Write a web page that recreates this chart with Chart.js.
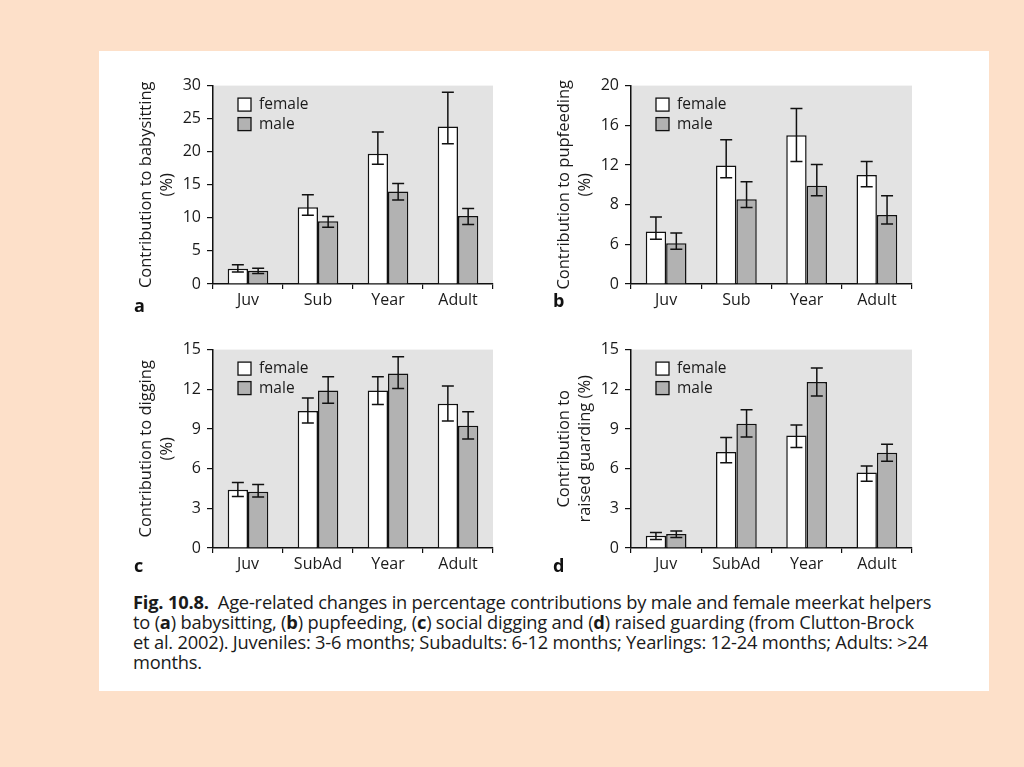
<!DOCTYPE html>
<html>
<head>
<meta charset="utf-8">
<script src="https://cdn.jsdelivr.net/npm/chart.js@4/dist/chart.umd.min.js"></script>
<style>
  body { margin:0; background:#fde0c9; width:1024px; height:767px; overflow:hidden; font-family:"Open Sans", sans-serif; }
  #sheet { position:absolute; left:99px; top:51px; width:890px; height:640px; background:#fff; }
  canvas { position:absolute; }
  .letter { position:absolute; font-weight:bold; font-size:18px; color:#111; }
  #caption { position:absolute; left:133px; top:592px; font-size:18.3px; line-height:20px; color:#1a1a1a; letter-spacing:-0.2px; }
  #caption div { white-space:nowrap; }
</style>
</head>
<body>
<div id="sheet"></div>
<canvas id="ca" width="380" height="240" style="left:120px;top:70px"></canvas>
<canvas id="cb" width="381" height="240" style="left:538px;top:70px"></canvas>
<canvas id="cc" width="380" height="240" style="left:120px;top:334px"></canvas>
<canvas id="cd" width="381" height="240" style="left:538px;top:334px"></canvas>
<div class="letter" style="left:134px;top:293px">a</div>
<div class="letter" style="left:553px;top:288px">b</div>
<div class="letter" style="left:134px;top:553px">c</div>
<div class="letter" style="left:553px;top:553px">d</div>
<div id="caption">
  <div><b>Fig. 10.8.</b>&nbsp; Age-related changes in percentage contributions by male and female meerkat helpers</div>
  <div>to (<b>a</b>) babysitting, (<b>b</b>) pupfeeding, (<b>c</b>) social digging and (<b>d</b>) raised guarding (from Clutton-Brock</div>
  <div>et al. 2002). Juveniles: 3-6 months; Subadults: 6-12 months; Yearlings: 12-24 months; Adults: &gt;24</div>
  <div>months.</div>
</div>
<script>
// age classes
const agesAB = ['Juv', 'Sub', 'Year', 'Adult'];
const agesCD = ['Juv', 'SubAd', 'Year', 'Adult'];

// (a) babysitting
const babyFemale = [2.3, 11.6, 19.7, 23.8];
const babyFemaleLo = [1.8, 10.4, 18.1, 21.2];
const babyFemaleHi = [2.9, 13.5, 23.0, 29.0];
const babyMale = [2.0, 9.5, 14.0, 10.3];
const babyMaleLo = [1.6, 8.6, 12.7, 9.0];
const babyMaleHi = [2.4, 10.2, 15.2, 11.4];

// (b) pupfeeding (axis printed with "6" at the 4 position)
const pupFemale = [5.3, 11.95, 15.0, 11.0];
const pupFemaleLo = [4.5, 10.7, 12.35, 9.8];
const pupFemaleHi = [6.75, 14.55, 17.7, 12.35];
const pupMale = [4.1, 8.55, 9.9, 6.95];
const pupMaleLo = [3.5, 7.7, 8.9, 6.05];
const pupMaleHi = [5.15, 10.3, 12.05, 8.9];
const pupTickLabels = ['0', '6', '8', '12', '16', '20'];

// (c) digging
const digFemale = [4.4, 10.35, 11.9, 10.9];
const digFemaleLo = [3.9, 9.45, 10.85, 9.6];
const digFemaleHi = [4.95, 11.35, 12.95, 12.25];
const digMale = [4.25, 11.9, 13.2, 9.25];
const digMaleLo = [3.85, 10.95, 12.05, 8.25];
const digMaleHi = [4.8, 12.95, 14.45, 10.3];

// (d) raised guarding
const guardFemale = [0.93, 7.25, 8.5, 5.7];
const guardFemaleLo = [0.65, 6.45, 7.6, 5.05];
const guardFemaleHi = [1.18, 8.35, 9.3, 6.2];
const guardMale = [1.05, 9.4, 12.55, 7.2];
const guardMaleLo = [0.8, 8.4, 11.5, 6.55];
const guardMaleHi = [1.28, 10.45, 13.6, 7.85];

const FONT = '"Open Sans", sans-serif';

// grey panel behind the bars
const panelBg = {
  id: 'panelBg',
  beforeDraw(chart) {
    const a = chart.chartArea, ctx = chart.ctx;
    ctx.save();
    ctx.fillStyle = '#e3e3e3';
    ctx.fillRect(a.left, a.top, a.right - a.left, a.bottom - a.top);
    ctx.restore();
  }
};

// whiskers from lo/hi arrays kept on each dataset
const errorBars = {
  id: 'errorBars',
  afterDatasetsDraw(chart) {
    const ctx = chart.ctx, y = chart.scales.y;
    ctx.save();
    ctx.strokeStyle = '#111';
    ctx.lineWidth = 1.5;
    chart.data.datasets.forEach((ds, i) => {
      chart.getDatasetMeta(i).data.forEach((bar, j) => {
        const x = bar.x;
        const yl = y.getPixelForValue(ds.lo[j]);
        const yh = y.getPixelForValue(ds.hi[j]);
        ctx.beginPath();
        ctx.moveTo(x, yl); ctx.lineTo(x, yh);
        ctx.moveTo(x - 6, yl); ctx.lineTo(x + 6, yl);
        ctx.moveTo(x - 6, yh); ctx.lineTo(x + 6, yh);
        ctx.stroke();
      });
    });
    ctx.restore();
  }
};

// small legend inside the panel, top left
const boxLegend = {
  id: 'boxLegend',
  afterDraw(chart) {
    const ctx = chart.ctx, a = chart.chartArea;
    ctx.save();
    ctx.font = '15.5px ' + FONT;
    ctx.textBaseline = 'middle';
    chart.data.datasets.forEach((ds, i) => {
      const cy = a.top + 19 + i * 19.5;
      const bx = a.left + 25;
      ctx.fillStyle = ds.backgroundColor;
      ctx.fillRect(bx, cy - 6.5, 13, 13);
      ctx.strokeStyle = '#111';
      ctx.lineWidth = 1.3;
      ctx.strokeRect(bx, cy - 6.5, 13, 13);
      ctx.fillStyle = '#1a1a1a';
      ctx.fillText(ds.label, bx + 21, cy);
    });
    ctx.restore();
  }
};

function makeChart(id, labels, fem, femLo, femHi, mal, malLo, malHi, yMax, step, title, tickLabels) {
  return new Chart(document.getElementById(id), {
    type: 'bar',
    data: {
      labels: labels,
      datasets: [
        { label: 'female', data: fem, lo: femLo, hi: femHi, backgroundColor: '#ffffff',
          borderColor: '#111', borderWidth: 1.5, categoryPercentage: 0.58, barPercentage: 1.0 },
        { label: 'male', data: mal, lo: malLo, hi: malHi, backgroundColor: '#b2b2b2',
          borderColor: '#111', borderWidth: 1.5, categoryPercentage: 0.58, barPercentage: 1.0 }
      ]
    },
    options: {
      responsive: false,
      animation: false,
      layout: { padding: { top: 5, right: 7, left: 0, bottom: 0 } },
      plugins: { legend: { display: false }, tooltip: { enabled: false } },
      scales: {
        x: {
          afterFit(s) { s.height = 26; },
          grid: { offset: true, drawOnChartArea: false, drawTicks: true, tickLength: 5, color: '#111', lineWidth: 1.2 },
          border: { display: true, color: '#111', width: 1.5 },
          ticks: { color: '#1a1a1a', padding: 2, font: { family: FONT, size: 16 } }
        },
        y: {
          min: 0, max: yMax,
          afterFit(s) { s.width = 93; },
          grid: { drawOnChartArea: false, drawTicks: true, tickLength: 6, color: '#111', lineWidth: 1.2 },
          border: { display: true, color: '#111', width: 1.5 },
          ticks: {
            stepSize: step, color: '#1a1a1a', padding: 6, font: { family: FONT, size: 16 },
            callback: function (v, i) { return tickLabels ? tickLabels[i] : v; }
          },
          title: { display: true, text: title, color: '#1a1a1a', padding: { top: 16, bottom: 0 },
                   font: { family: FONT, size: 16.5, lineHeight: 1.25 } }
        }
      }
    },
    plugins: [panelBg, errorBars, boxLegend]
  });
}

makeChart('ca', agesAB, babyFemale, babyFemaleLo, babyFemaleHi, babyMale, babyMaleLo, babyMaleHi,
  30, 5, ['Contribution to babysitting', '(%)']);
makeChart('cb', agesAB, pupFemale, pupFemaleLo, pupFemaleHi, pupMale, pupMaleLo, pupMaleHi,
  20, 4, ['Contribution to pupfeeding', '(%)'], pupTickLabels);
makeChart('cc', agesCD, digFemale, digFemaleLo, digFemaleHi, digMale, digMaleLo, digMaleHi,
  15, 3, ['Contribution to digging', '(%)']);
makeChart('cd', agesCD, guardFemale, guardFemaleLo, guardFemaleHi, guardMale, guardMaleLo, guardMaleHi,
  15, 3, ['Contribution to', 'raised guarding (%)']);
</script>
</body>
</html>
